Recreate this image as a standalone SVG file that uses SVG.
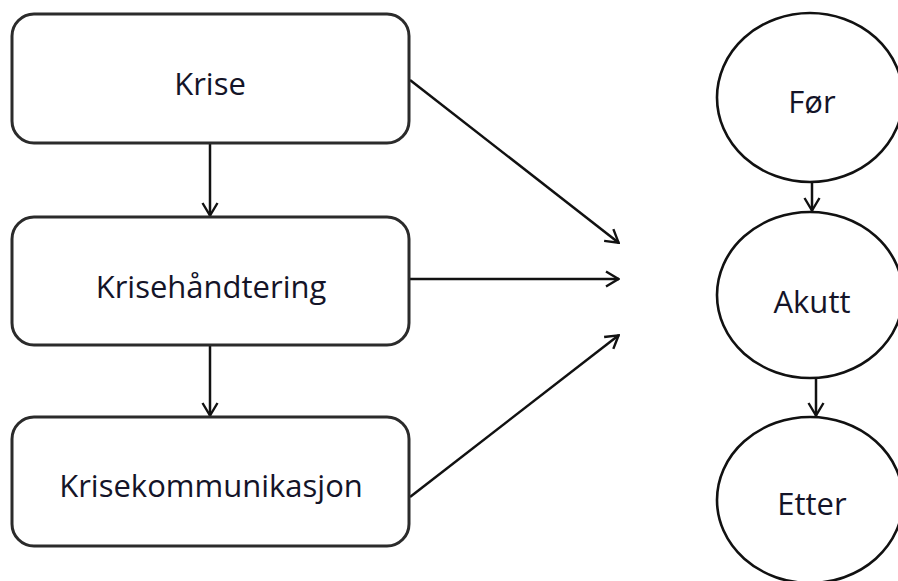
<svg xmlns="http://www.w3.org/2000/svg" width="898" height="581" viewBox="0 0 898 581">
  <style>
    .box { fill: #ffffff; stroke: #2b2b2b; stroke-width: 3; }
    .oval { fill: #ffffff; stroke: #111111; stroke-width: 2.6; }
    .label { font-family: "Open Sans", Lato, "Liberation Sans", sans-serif; font-size: 31px; fill: #141428; text-anchor: middle; }
    .edge { fill: none; stroke: #111111; stroke-width: 2.5; marker-end: url(#chevron); }
  </style>
  <defs>
    <!-- open V-shaped arrowhead -->
    <marker id="chevron" viewBox="0 0 16 18" refX="15" refY="9" markerWidth="16" markerHeight="18" markerUnits="userSpaceOnUse" orient="auto">
      <path d="M2,1.5 L14.5,9 L2,16.5" fill="none" stroke="#111111" stroke-width="2.4"/>
    </marker>
  </defs>
  <rect width="898" height="581" fill="#ffffff"/>

  <g id="connectors">
    <line class="edge" x1="210" y1="143" x2="210" y2="216"/>
    <line class="edge" x1="210" y1="345" x2="210" y2="416"/>
    <line class="edge" x1="410" y1="80" x2="619" y2="243"/>
    <line class="edge" x1="410" y1="279" x2="619" y2="279"/>
    <line class="edge" x1="410" y1="497" x2="619" y2="335"/>
    <line class="edge" x1="812" y1="182" x2="812" y2="211"/>
    <line class="edge" x1="816" y1="378" x2="816" y2="416"/>
  </g>

  <g id="krise">
    <rect class="box" x="12" y="14" width="397" height="129" rx="22"/>
    <text class="label" x="210" y="95">Krise</text>
  </g>
  <g id="krisehandtering">
    <rect class="box" x="12" y="217" width="397" height="128" rx="22"/>
    <text class="label" x="211" y="298">Krisehåndtering</text>
  </g>
  <g id="krisekommunikasjon">
    <rect class="box" x="12" y="417" width="397" height="129" rx="22"/>
    <text class="label" x="211" y="497">Krisekommunikasjon</text>
  </g>

  <g id="for">
    <ellipse class="oval" cx="810" cy="97.5" rx="93" ry="84.5"/>
    <text class="label" x="812" y="113">Før</text>
  </g>
  <g id="akutt">
    <ellipse class="oval" cx="810" cy="295" rx="93" ry="83"/>
    <text class="label" x="812" y="313">Akutt</text>
  </g>
  <g id="etter">
    <ellipse class="oval" cx="810" cy="500" rx="93" ry="83"/>
    <text class="label" x="812" y="515">Etter</text>
  </g>
</svg>
